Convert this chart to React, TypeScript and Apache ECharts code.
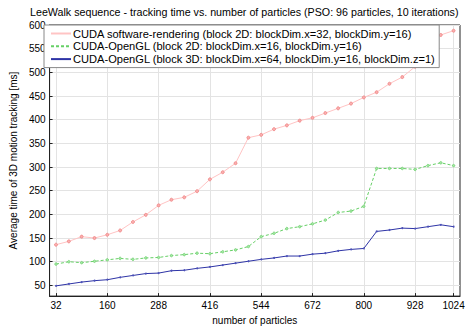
import React, { useEffect, useRef } from "react";
import * as echarts from "echarts";

const particles = [32, 64, 96, 128, 160, 192, 224, 256, 288, 320, 352, 384, 416, 448, 480, 512, 544, 576, 608, 640, 672, 704, 736, 768, 800, 832, 864, 896, 928, 960, 992, 1024];
const softwareRendering = [136, 143, 153, 150, 157, 166, 184, 199, 219, 231, 236, 249, 274, 289, 308, 362, 368, 380, 388, 398, 404, 414, 424, 434, 447, 458, 476, 490, 512, 548, 579, 588];
const openGL2D = [95, 100, 98, 101, 104, 107, 105, 108, 109, 113, 115, 118, 117, 121, 125, 132, 153, 160, 170, 174, 180, 188, 204, 207, 217, 297, 297, 297, 295, 303, 309, 303];
const openGL3D = [49, 53, 57, 60, 62, 67, 71, 75, 76, 81, 82, 86, 89, 93, 97, 101, 105, 108, 112, 112, 116, 118, 123, 126, 128, 164, 167, 171, 170, 174, 178, 174];
const xTicks = [32, 160, 288, 416, 544, 672, 800, 928, 1024];
const yTicks = [50, 100, 150, 200, 250, 300, 350, 400, 450, 500, 550, 600];
const seriesNames = [
  "CUDA software-rendering (block 2D: blockDim.x=32, blockDim.y=16)",
  "CUDA-OpenGL (block 2D: blockDim.x=16, blockDim.y=16)",
  "CUDA-OpenGL (block 3D: blockDim.x=64, blockDim.y=16, blockDim.z=1)",
];
const titleText = "LeeWalk sequence - tracking time vs. number of particles (PSO: 96 particles, 10 iterations)";

const FONT = "Liberation Sans, Arial, sans-serif";

export default function App() {
  const ref = useRef<HTMLDivElement>(null);
  useEffect(() => {
    if (!ref.current) return;
    const chart = echarts.init(ref.current, null, { renderer: "svg" });
    const pair = (vals: number[]) => particles.map((p, i) => [p, vals[i]]);
    const gridLeft = 44, gridRight = 13, gridTop = 25, gridBottom = 27;
    const hidden = { color: "rgba(0,0,0,0)", borderColor: "rgba(0,0,0,0)", borderWidth: 0 };
    chart.setOption({
      animation: false,
      textStyle: { fontFamily: FONT },
      graphic: [
        {
          type: "text",
          x: 30,
          y: 12,
          style: {
            text: titleText,
            fontFamily: FONT,
            fontSize: 10.7,
            fill: "#000",
            textAlign: "left",
            textVerticalAlign: "middle",
          },
        },
      ],
      grid: {
        left: gridLeft,
        right: gridRight,
        top: gridTop,
        bottom: gridBottom,
        show: true,
        borderColor: "#222",
        borderWidth: 1,
        backgroundColor: "#fff",
      },
      legend: {
        orient: "vertical",
        left: gridLeft,
        top: gridTop,
        itemWidth: 20,
        itemHeight: 10,
        itemGap: 1.8,
        padding: [3, 4, 3, 6],
        backgroundColor: "#fff",
        borderColor: "#888",
        borderWidth: 1,
        borderRadius: 0,
        textStyle: { fontFamily: FONT, fontSize: 11.1, color: "#000", padding: [0, 0, 0, -3] },
        itemStyle: hidden,
        data: seriesNames.map((n) => ({ name: n, itemStyle: hidden })),
      },
      xAxis: {
        type: "value",
        min: 16,
        max: 1040,
        name: "number of particles",
        nameLocation: "middle",
        nameGap: 15,
        nameTextStyle: { fontFamily: FONT, fontSize: 10, color: "#000" },
        axisLine: { show: true, lineStyle: { color: "#222" } },
        axisTick: { show: true, inside: true, length: 3, customValues: xTicks, lineStyle: { color: "#222" } },
        axisLabel: { customValues: xTicks, formatter: (v: number) => String(v), fontFamily: FONT, fontSize: 10, color: "#000", margin: 4 },
        splitLine: { show: true, lineStyle: { color: "#e3e3e3", width: 1 } },
      },
      yAxis: {
        type: "value",
        min: 27.4,
        max: 600,
        name: "Average time of 3D motion tracking [ms]",
        nameLocation: "middle",
        nameGap: 21,
        nameTextStyle: { fontFamily: FONT, fontSize: 10, color: "#000" },
        axisLine: { show: true, lineStyle: { color: "#222" } },
        axisTick: { show: true, inside: true, length: 3, customValues: yTicks, lineStyle: { color: "#222" } },
        axisLabel: { customValues: yTicks, formatter: (v: number) => String(v), fontFamily: FONT, fontSize: 10, color: "#000", margin: 4 },
        splitLine: { show: true, lineStyle: { color: "#e3e3e3", width: 1 } },
      },
      series: [
        {
          name: seriesNames[0],
          type: "line",
          data: pair(softwareRendering),
          symbol: "circle",
          symbolSize: 3,
          lineStyle: { color: "#ffc4c4", width: 1 },
          itemStyle: { color: "#fbb0b0", borderColor: "#ee8080", borderWidth: 0.8 },
          z: 3,
        },
        {
          name: seriesNames[1],
          type: "line",
          data: pair(openGL2D),
          symbol: "circle",
          symbolSize: 2.5,
          lineStyle: { color: "#66d066", width: 1, type: [3, 2] },
          itemStyle: { color: "#a8e8a8", borderColor: "#70d070", borderWidth: 0.8 },
          z: 3,
        },
        {
          name: seriesNames[2],
          type: "line",
          data: pair(openGL3D),
          symbol: "circle",
          symbolSize: 2,
          lineStyle: { color: "#2e34a6", width: 1 },
          itemStyle: { color: "#4b50b8" },
          z: 3,
        },
      ],
    });
    return () => chart.dispose();
  }, []);
  return <div ref={ref} style={{ width: 473, height: 330, position: "absolute", left: 0, top: 0, background: "#fff" }} />;
}
